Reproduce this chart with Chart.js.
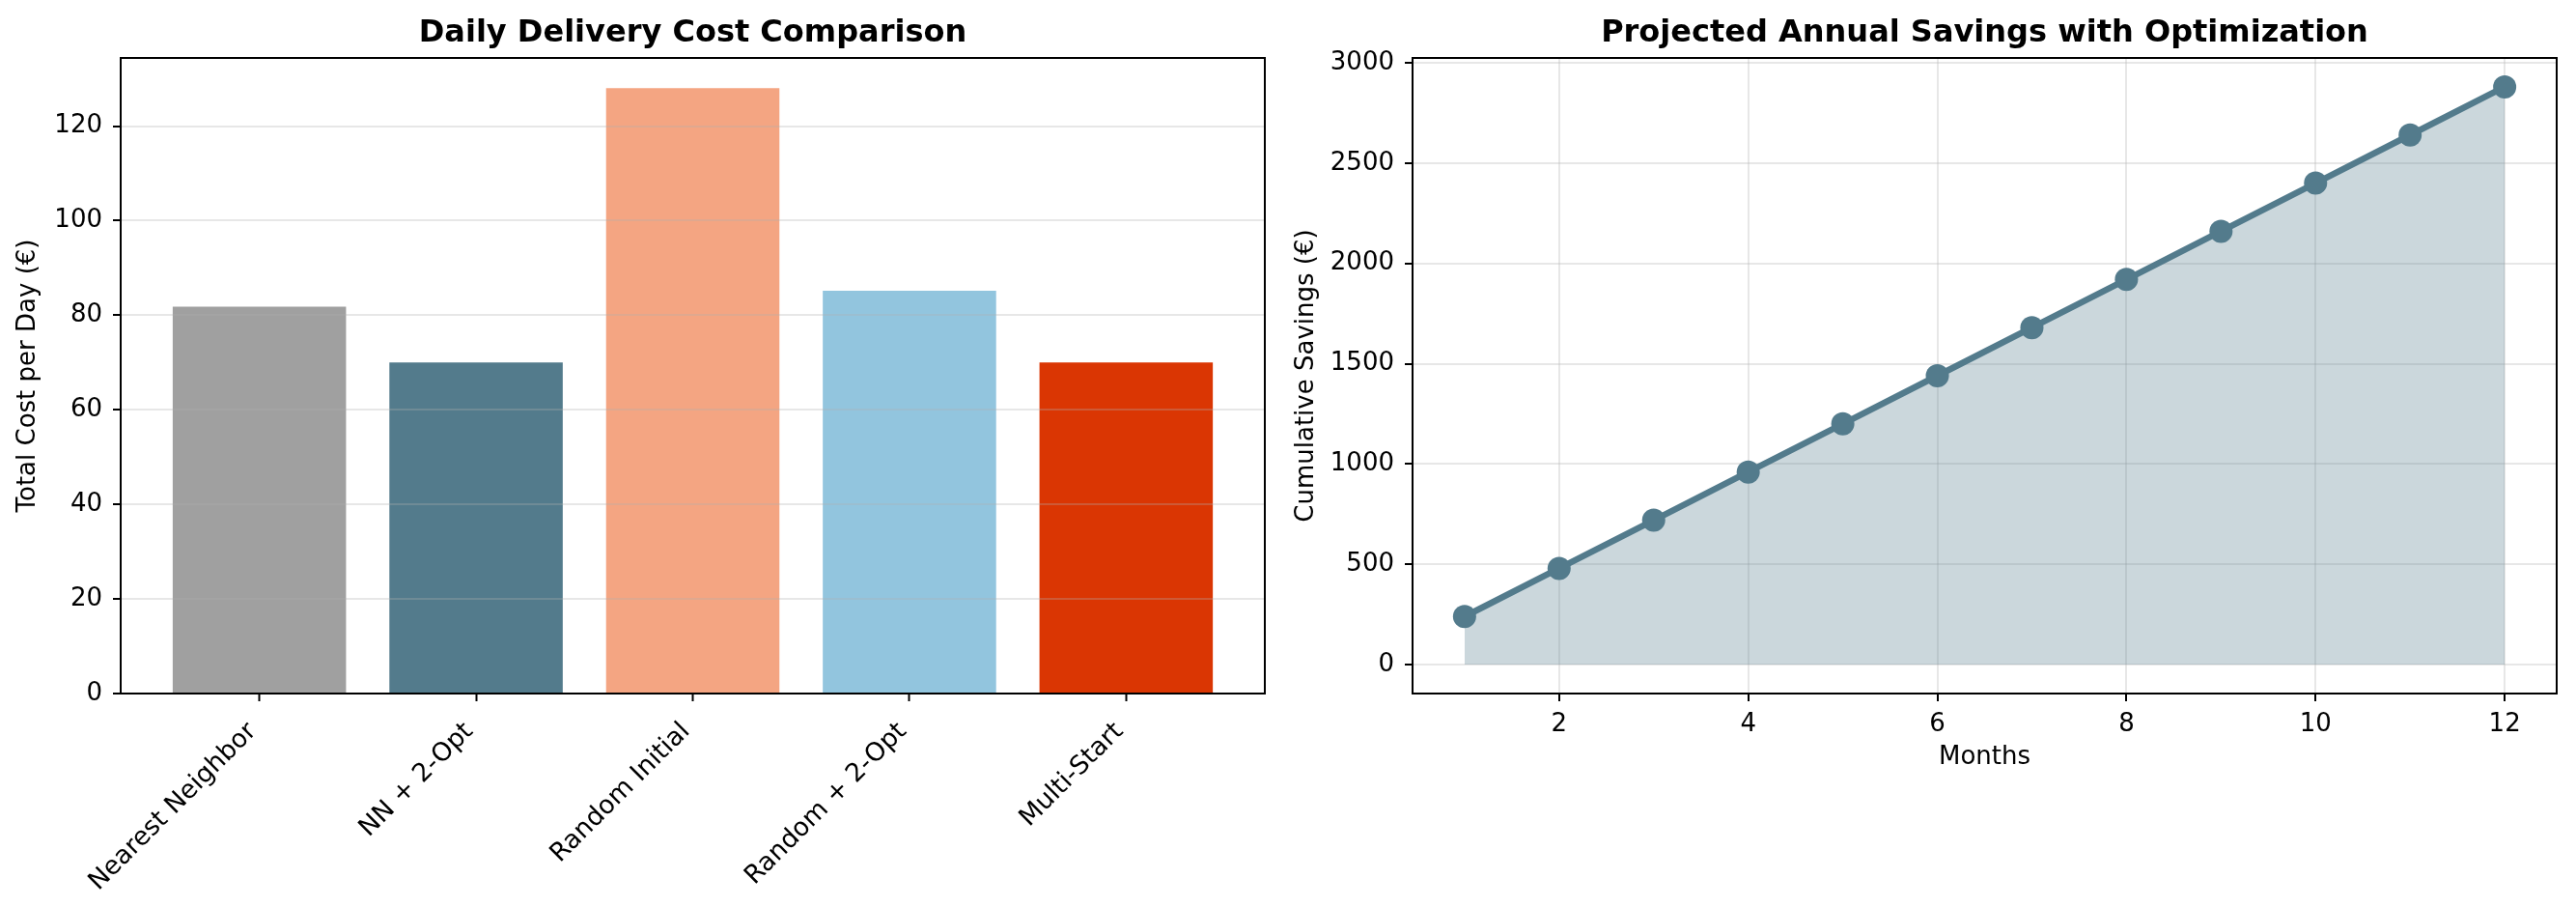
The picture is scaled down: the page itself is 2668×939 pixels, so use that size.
<!DOCTYPE html>
<html><head><meta charset="utf-8">
<script src="https://cdn.jsdelivr.net/npm/chart.js@4.4.1/dist/chart.umd.min.js"></script>
<style>
html,body{margin:0;padding:0;background:#fff;width:2668px;height:939px;overflow:hidden}
canvas{position:absolute;top:0}
#c1{left:0}
#c2{left:1330px}
</style></head>
<body>
<canvas id="c1" width="1330" height="939"></canvas>
<canvas id="c2" width="1338" height="939"></canvas>
<script>
const methods = ['Nearest Neighbor', 'NN + 2-Opt', 'Random Initial', 'Random + 2-Opt', 'Multi-Start'];
const dailyCost = [81.8, 70.0, 128.0, 85.2, 70.0];
const barColors = ['#a0a0a0', '#537b8c', '#f4a582', '#92c5de', '#da3603'];
const costTicks = [0, 20, 40, 60, 80, 100, 120];

const months = [1, 2, 3, 4, 5, 6, 7, 8, 9, 10, 11, 12];
const savings = [240, 480, 720, 960, 1200, 1440, 1680, 1920, 2160, 2400, 2640, 2880];
const monthTicks = [2, 4, 6, 8, 10, 12];
const savingsTicks = [0, 500, 1000, 1500, 2000, 2500, 3000];

Chart.defaults.font.family = "'DejaVu Sans', sans-serif";
Chart.defaults.color = '#000';

const frame = {
  id: 'frame',
  afterDraw(chart) {
    const {ctx, chartArea: a} = chart;
    ctx.save();
    ctx.strokeStyle = '#000';
    ctx.lineWidth = 2;
    ctx.strokeRect(a.left, a.top, a.right - a.left, a.bottom - a.top);
    ctx.restore();
  }
};

const gridColor = 'rgba(176,176,176,0.3)';

new Chart(document.getElementById('c1'), {
  type: 'bar',
  data: {
    datasets: [{
      data: methods.map((m, i) => ({x: i, y: dailyCost[i]})),
      backgroundColor: barColors,
      borderWidth: 0,
      categoryPercentage: 0.8,
      barPercentage: 1
    }]
  },
  options: {
    responsive: false, animation: false, devicePixelRatio: 1,
    layout: {padding: {left: 0, right: 20, top: 0, bottom: 0}},
    plugins: {
      legend: {display: false},
      tooltip: {enabled: false},
      title: {display: true, text: 'Daily Delivery Cost Comparison', fullSize: false,
        font: {size: 32, weight: 'bold'}, color: '#000', padding: {top: 15, bottom: 6.6}}
    },
    scales: {
      x: {
        type: 'linear', min: -0.64, max: 4.64, offset: false,
        afterBuildTicks(s) { s.ticks = methods.map((m, i) => ({value: i})); },
        ticks: {callback: (v) => methods[v], minRotation: 45, maxRotation: 45, autoSkip: false,
          font: {size: 26.5}, color: '#000', padding: 16, labelOffset: -7},
        grid: {offset: false, drawOnChartArea: false, drawTicks: true, tickLength: 8, tickWidth: 2, tickColor: '#000'},
        border: {display: false},
        afterFit(s) { s.height = 221; s.paddingLeft = 0; s.paddingRight = 0; }
      },
      y: {
        min: 0, max: 134.4,
        afterBuildTicks(s) { s.ticks = costTicks.map(v => ({value: v})); },
        ticks: {callback: (v) => String(v), font: {size: 26}, color: '#000', padding: 11},
        grid: {color: gridColor, lineWidth: 2, tickLength: 8, tickWidth: 2, tickColor: '#000', z: 1},
        border: {display: false},
        title: {display: true, text: 'Total Cost per Day (€)', font: {size: 26}, color: '#000', padding: {top: 14, bottom: 0}},
        afterFit(s) { s.width = 125; s.paddingTop = 0; s.paddingBottom = 0; }
      }
    }
  },
  plugins: [frame]
});

new Chart(document.getElementById('c2'), {
  type: 'line',
  data: {
    datasets: [{
      data: months.map((m, i) => ({x: m, y: savings[i]})),
      borderColor: '#537b8c',
      borderWidth: 6.5,
      backgroundColor: 'rgba(83,123,140,0.3)',
      fill: 'origin',
      tension: 0,
      pointRadius: 12,
      pointBackgroundColor: '#537b8c',
      pointBorderWidth: 0
    }]
  },
  options: {
    responsive: false, animation: false, devicePixelRatio: 1,
    layout: {padding: {left: 0, right: 20, top: 0, bottom: 138.7}},
    plugins: {
      legend: {display: false},
      tooltip: {enabled: false},
      title: {display: true, text: 'Projected Annual Savings with Optimization', fullSize: false,
        font: {size: 32, weight: 'bold'}, color: '#000', padding: {top: 15, bottom: 6.6}}
    },
    scales: {
      x: {
        type: 'linear', min: 0.45, max: 12.55,
        afterBuildTicks(s) { s.ticks = monthTicks.map(v => ({value: v})); },
        ticks: {callback: (v) => String(v), maxRotation: 0, font: {size: 26}, color: '#000', padding: 9},
        grid: {color: gridColor, lineWidth: 2, tickLength: 8, tickWidth: 2, tickColor: '#000'},
        border: {display: false},
        title: {display: true, text: 'Months', font: {size: 26}, color: '#000', padding: {top: 0, bottom: 0}},
        afterFit(s) { s.height = 82.3; s.paddingLeft = 0; s.paddingRight = 0; }
      },
      y: {
        min: -144, max: 3024,
        afterBuildTicks(s) { s.ticks = savingsTicks.map(v => ({value: v})); },
        ticks: {callback: (v) => String(v), font: {size: 26}, color: '#000', padding: 11},
        grid: {color: gridColor, lineWidth: 2, tickLength: 8, tickWidth: 2, tickColor: '#000'},
        border: {display: false},
        title: {display: true, text: 'Cumulative Savings (€)', font: {size: 26}, color: '#000', padding: {top: 8, bottom: 0}},
        afterFit(s) { s.width = 133; s.paddingTop = 0; s.paddingBottom = 0; }
      }
    }
  },
  plugins: [frame]
});
</script>
</body></html>
